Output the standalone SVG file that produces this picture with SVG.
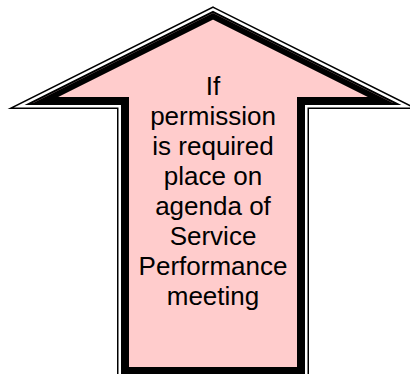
<svg xmlns="http://www.w3.org/2000/svg" width="410" height="374" viewBox="0 0 410 374">
  <style>
    .edge { fill: none; stroke-linejoin: miter; stroke-miterlimit: 12; }
    .label { font-family: "Liberation Sans", Arial, sans-serif; font-size: 26px; fill: #000; text-anchor: middle; }
  </style>
  <defs>
    <path id="arrowShape" d="M213,13 L393,103 L303,103 L303,373 L123,373 L123,103 L33,103 Z"/>
    <clipPath id="inside">
      <use href="#arrowShape"/>
    </clipPath>
  </defs>
  <rect width="410" height="374" fill="#fff"/>
  <g id="arrow">
    <use href="#arrowShape" class="edge" stroke="#000" stroke-width="12"/>
    <use href="#arrowShape" class="edge" stroke="#fff" stroke-width="9"/>
    <use href="#arrowShape" class="edge" stroke="#000" stroke-width="4"/>
    <use href="#arrowShape" fill="#FFCCCC"/>
    <use href="#arrowShape" class="edge" stroke="#000" stroke-width="12" clip-path="url(#inside)"/>
  </g>
  <g id="label">
    <text class="label" x="213" y="95">If</text>
    <text class="label" x="213" y="125">permission</text>
    <text class="label" x="213" y="155">is required</text>
    <text class="label" x="213" y="185">place on</text>
    <text class="label" x="213" y="215">agenda of</text>
    <text class="label" x="213" y="245">Service</text>
    <text class="label" x="213" y="275">Performance</text>
    <text class="label" x="213" y="305">meeting</text>
  </g>
</svg>
